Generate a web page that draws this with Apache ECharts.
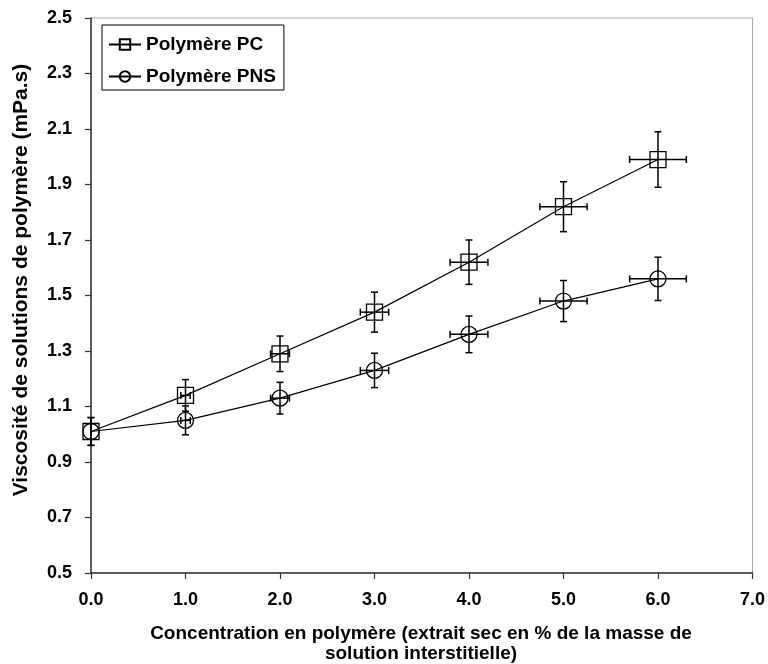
<!DOCTYPE html>
<html><head><meta charset="utf-8">
<script src="https://cdn.jsdelivr.net/npm/echarts@6/dist/echarts.min.js"></script>
<style>html,body{margin:0;padding:0;background:#fff}#c{width:768px;height:664px}</style>
</head><body><div id="c"></div>
<script>
// ---- data ----
const concentrations = [0, 1, 2, 3, 4, 5, 6];
const pcViscosity  = [1.01, 1.14, 1.29, 1.44, 1.62, 1.82, 1.99];
const pcYErr       = [0.05, 0.057, 0.064, 0.072, 0.08, 0.09, 0.10];
const pnsViscosity = [1.01, 1.05, 1.13, 1.23, 1.36, 1.48, 1.56];
const pnsYErr      = [0.05, 0.052, 0.057, 0.062, 0.066, 0.074, 0.078];
const concXErr     = [0.0, 0.05, 0.10, 0.15, 0.20, 0.25, 0.30];
const seriesNames  = ['Polymère PC', 'Polymère PNS'];
const xTitle = 'Concentration en polymère (extrait sec en % de la masse de\nsolution interstitielle)';
const yTitle = 'Viscosité de solutions de polymère (mPa.s)';

const FONT = '"Liberation Sans", Arial, sans-serif';

function pts(ys) { return concentrations.map((x, i) => [x, ys[i]]); }
function errRows(ys, ye) { return concentrations.map((x, i) => [x, ys[i], concXErr[i], ye[i]]); }

function renderErr(params, api) {
  const x = api.value(0), y = api.value(1), ex = api.value(2), ey = api.value(3);
  const top = api.coord([x, y + ey]), bot = api.coord([x, y - ey]);
  const cap = 3.5;
  const style = { stroke: '#000', lineWidth: 1.5, fill: null };
  const ch = [
    { type: 'line', shape: { x1: top[0], y1: top[1], x2: bot[0], y2: bot[1] }, style },
    { type: 'line', shape: { x1: top[0] - cap, y1: top[1], x2: top[0] + cap, y2: top[1] }, style },
    { type: 'line', shape: { x1: bot[0] - cap, y1: bot[1], x2: bot[0] + cap, y2: bot[1] }, style }
  ];
  if (ex > 0) {
    const l = api.coord([x - ex, y]), r = api.coord([x + ex, y]);
    ch.push({ type: 'line', shape: { x1: l[0], y1: l[1], x2: r[0], y2: r[1] }, style });
    ch.push({ type: 'line', shape: { x1: l[0], y1: l[1] - cap, x2: l[0], y2: l[1] + cap }, style });
    ch.push({ type: 'line', shape: { x1: r[0], y1: r[1] - cap, x2: r[0], y2: r[1] + cap }, style });
  }
  return { type: 'group', children: ch };
}

const chart = echarts.init(document.getElementById('c'));
const lineSeries = (name, ys, symbol) => ({
  name, type: 'line', data: pts(ys), symbol, symbolSize: 16,
  lineStyle: { color: '#000', width: 1.2 },
  itemStyle: { color: 'rgba(255,255,255,0)', borderColor: '#000', borderWidth: 1.3 },
  z: 3, animation: false
});
chart.setOption({
  animation: false,
  backgroundColor: '#fff',
  textStyle: { fontFamily: FONT },
  grid: { left: 91, right: 15, top: 18, bottom: 91, show: true, borderColor: '#a6a6a6', borderWidth: 1 },
  legend: {
    data: seriesNames, orient: 'vertical', left: 102, top: 25,
    backgroundColor: '#fff', borderColor: '#000', borderWidth: 1,
    padding: [10, 8, 4, 6], itemGap: 13, itemWidth: 32, itemHeight: 13,
    textStyle: { fontFamily: FONT, fontWeight: 'bold', fontSize: 19, color: '#000' }
  },
  xAxis: {
    type: 'value', min: 0, max: 7, interval: 1,
    axisLine: { lineStyle: { color: '#333', width: 1.5 } },
    axisTick: { show: true, length: 6, lineStyle: { color: '#333', width: 1.2 } },
    splitLine: { show: false },
    axisLabel: { margin: 18, color: '#000', fontSize: 18, fontWeight: 'bold', fontFamily: FONT, formatter: v => v.toFixed(1) }
  },
  yAxis: {
    type: 'value', min: 0.5, max: 2.5, interval: 0.2,
    axisLine: { show: true, lineStyle: { color: '#333', width: 1.5 } },
    axisTick: { show: true, length: 6, lineStyle: { color: '#333', width: 1.2 } },
    splitLine: { show: false },
    axisLabel: { margin: 19, color: '#000', fontSize: 18, fontWeight: 'bold', fontFamily: FONT, formatter: v => v.toFixed(1) }
  },
  graphic: [
    { type: 'text', x: 21, y: 280, rotation: Math.PI / 2,
      style: { text: yTitle, font: 'bold 21px ' + FONT, fill: '#000', align: 'center', verticalAlign: 'middle' } },
    { type: 'text', x: 421, y: 644,
      style: { text: xTitle, font: 'bold 19px ' + FONT, fill: '#000', align: 'center', verticalAlign: 'middle', lineHeight: 20 } }
  ],
  series: [
    lineSeries(seriesNames[0], pcViscosity, 'rect'),
    lineSeries(seriesNames[1], pnsViscosity, 'circle'),
    { type: 'custom', data: errRows(pcViscosity, pcYErr), renderItem: renderErr, encode: { x: 0, y: 1 }, z: 4, silent: true },
    { type: 'custom', data: errRows(pnsViscosity, pnsYErr), renderItem: renderErr, encode: { x: 0, y: 1 }, z: 4, silent: true }
  ]
});
</script></body></html>
